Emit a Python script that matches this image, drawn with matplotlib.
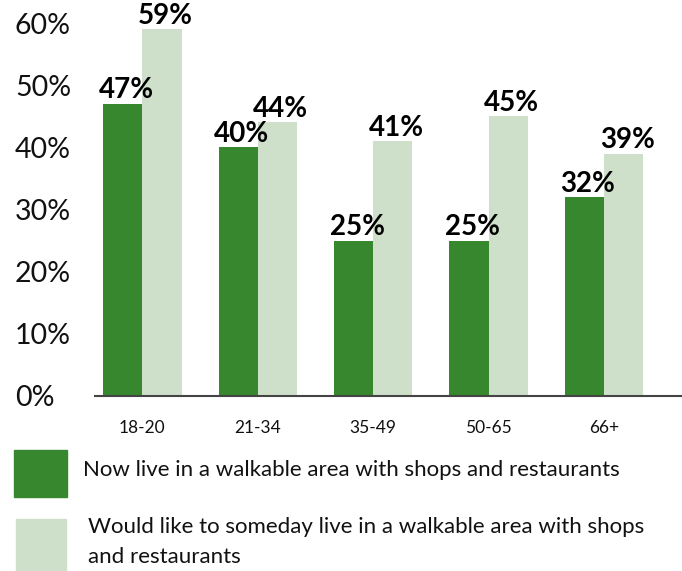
import matplotlib
matplotlib.use("Agg")
import matplotlib.pyplot as plt
from matplotlib.patches import Rectangle
import numpy as np

plt.rcParams['font.family'] = ['Lato', 'DejaVu Sans']

# Survey data
age_groups = ["18-20", "21-34", "35-49", "50-65", "66+"]
now_live = [47, 40, 25, 25, 32]
would_like = [59, 44, 41, 45, 39]
y_ticks = [0, 10, 20, 30, 40, 50, 60]
legend_now = "Now live in a walkable area with shops and restaurants"
legend_would = ["Would like to someday live in a walkable area with shops",
                "and restaurants"]

dark_green = "#36872E"
light_green = "#CEE0CA"

W, H = 682, 571
fig = plt.figure(figsize=(W / 100, H / 100), dpi=100)
ax_left, ax_bottom_px, ax_top_px = 95, 396, 23
ax = fig.add_axes([ax_left / W, 1 - ax_bottom_px / H, (W - ax_left) / W,
                   (ax_bottom_px - ax_top_px) / H])

x = np.arange(len(age_groups))
bw = 0.34
b1 = ax.bar(x - bw / 2, now_live, width=bw, color=dark_green, zorder=2)
b2 = ax.bar(x + bw / 2, would_like, width=bw, color=light_green, zorder=2)

for bars, vals in ((b1, now_live), (b2, would_like)):
    for rect, v in zip(bars, vals):
        ax.annotate(f"{v}%", (rect.get_x() + rect.get_width() / 2 + 0.03, v),
                    xytext=(0, 4), textcoords="offset points",
                    ha="center", va="baseline", fontsize=20, fontweight="bold",
                    color="black", zorder=3, annotation_clip=False)

ax.set_xlim(-0.41, 4.675)
ax.set_ylim(0, 60)
ax.set_yticks(y_ticks)
ax.set_yticklabels([f"{t}%" for t in y_ticks], fontsize=20.5, color="#111111",
                   ha="left")
ax.set_xticks(x)
ax.set_xticklabels(age_groups, fontsize=12.5, color="#111111")
ax.tick_params(axis="both", length=0)
ax.tick_params(axis="x", pad=17)
ax.tick_params(axis="y", pad=(ax_left - 15) * 0.72)
for s in ("top", "right", "left"):
    ax.spines[s].set_visible(False)
ax.spines["bottom"].set_color("#444444")
ax.spines["bottom"].set_linewidth(1.5)
ax.spines["bottom"].set_zorder(3)

# Legend drawn as swatches with text beneath the plot
fig.patches.append(Rectangle((14 / W, 1 - 497 / H), 53 / W, 47 / H,
                             transform=fig.transFigure, color=dark_green))
fig.patches.append(Rectangle((16 / W, 1 - 571 / H), 50 / W, 52 / H,
                             transform=fig.transFigure, color=light_green))
fig.text(83 / W, 1 - 470 / H, legend_now, fontsize=16, va="center",
         ha="left", color="#111111")
for i, line in enumerate(legend_would):
    fig.text(88 / W, 1 - (527 + 30 * i) / H, line, fontsize=16, va="center",
             ha="left", color="#111111")

fig.savefig("out.png", dpi=100)
